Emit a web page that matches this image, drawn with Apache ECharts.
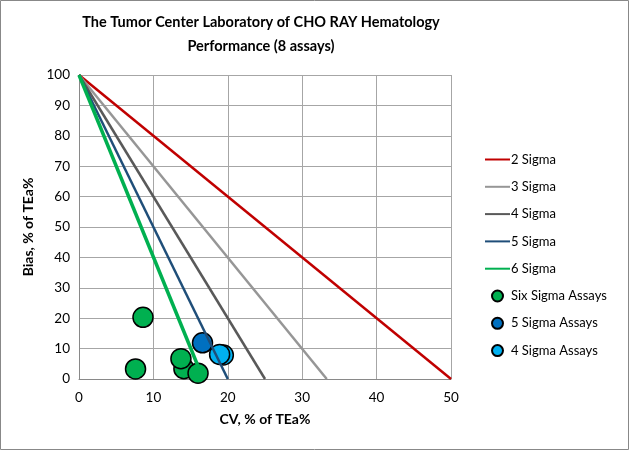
<!DOCTYPE html>
<html><head><meta charset="utf-8">
<script src="https://cdn.jsdelivr.net/npm/echarts@6/dist/echarts.min.js"></script>
<style>html,body{margin:0;padding:0;background:#fff}#c{width:629px;height:450px}</style>
</head><body><div id="c"></div>
<script>
var sigmaNames = ['2 Sigma','3 Sigma','4 Sigma','5 Sigma','6 Sigma'];
var sigmaXIntercepts = [50, 33.3, 25, 20, 16.7];
var sigmaColors = ['#C00000','#969696','#595959','#1F4E79','#00B050'];
var sigmaWidths = [2.5, 2.5, 2.5, 2.5, 3.5];
var sixSigmaAssays = [[8.6,20.3],[7.6,3.3],[14.1,3.4],[16.0,1.9],[13.7,6.7]];
var fiveSigmaAssays = [[16.6,11.9]];
var fourSigmaAssays = [[19.4,7.9],[18.9,8.1]];
var xTicks = {min:0, max:50, interval:10};
var yTicks = {min:0, max:100, interval:10};
var titleLines = ['The Tumor Center Laboratory of CHO RAY Hematology','Performance (8 assays)'];

var font = 'Lato, "Open Sans", sans-serif';
var series = [];
sigmaNames.forEach(function(n,i){
  series.push({name:n, type:'line', symbol:'none', silent:true,
    data:[[0,100],[sigmaXIntercepts[i],0]],
    lineStyle:{color:sigmaColors[i], width:sigmaWidths[i]}, itemStyle:{color:sigmaColors[i]}});
});
function sc(name,data,color){
  return {name:name,type:'scatter',data:data,symbolSize:20,
    itemStyle:{color:color,borderColor:'#000',borderWidth:1.5,opacity:1}};
}
series.push(sc('Six Sigma Assays',sixSigmaAssays,'#00B050'));
series.push(sc('5 Sigma Assays',fiveSigmaAssays,'#0070C0'));
series.push(sc('4 Sigma Assays',fourSigmaAssays,'#00B0F0'));

var chart = echarts.init(document.getElementById('c'));
chart.setOption({
  animation:false,
  backgroundColor:'#fff',
  textStyle:{fontFamily:font},
  graphic:[
    {type:'rect',shape:{x:0.5,y:0.5,width:628,height:449},style:{fill:'none',stroke:'#888',lineWidth:1},silent:true},
    {type:'text',x:261,y:22,style:{text:titleLines[0],textAlign:'center',textVerticalAlign:'middle',font:'bold 14.5px '+font,fill:'#000'}},
    {type:'text',x:261,y:46,style:{text:titleLines[1],textAlign:'center',textVerticalAlign:'middle',font:'bold 14.5px '+font,fill:'#000'}}
  ],
  grid:{left:79,right:178,top:75,bottom:71},
  legend:{orient:'vertical',left:479,top:148,itemWidth:25,itemHeight:11,itemGap:14.3,
    textStyle:{fontFamily:font,fontSize:13,color:'#000',padding:[0,0,0,-4]},
    data:sigmaNames.map(function(n){return {name:n,itemStyle:{opacity:0}};}).concat([
      {name:'Six Sigma Assays',icon:'circle'},{name:'5 Sigma Assays',icon:'circle'},{name:'4 Sigma Assays',icon:'circle'}])},
  xAxis:{type:'value',min:xTicks.min,max:xTicks.max,interval:xTicks.interval,
    name:'CV, % of TEa%',nameLocation:'middle',nameGap:33,
    nameTextStyle:{fontFamily:font,fontSize:14,fontWeight:'bold',color:'#000'},
    axisLine:{show:true,lineStyle:{color:'#898989'}},axisTick:{show:false},
    axisLabel:{fontFamily:font,fontSize:13.5,color:'#000',margin:12},
    splitLine:{show:true,lineStyle:{color:'#a6a6a6'}}},
  yAxis:{type:'value',min:yTicks.min,max:yTicks.max,interval:yTicks.interval,
    name:'Bias, % of TEa%',nameLocation:'middle',nameGap:44,
    nameTextStyle:{fontFamily:font,fontSize:14,fontWeight:'bold',color:'#000'},
    axisLine:{show:true,lineStyle:{color:'#898989'}},axisTick:{show:false},
    axisLabel:{fontFamily:font,fontSize:13.5,color:'#000',margin:9},
    splitLine:{show:true,lineStyle:{color:'#a6a6a6'}}},
  series:series
});
</script></body></html>
